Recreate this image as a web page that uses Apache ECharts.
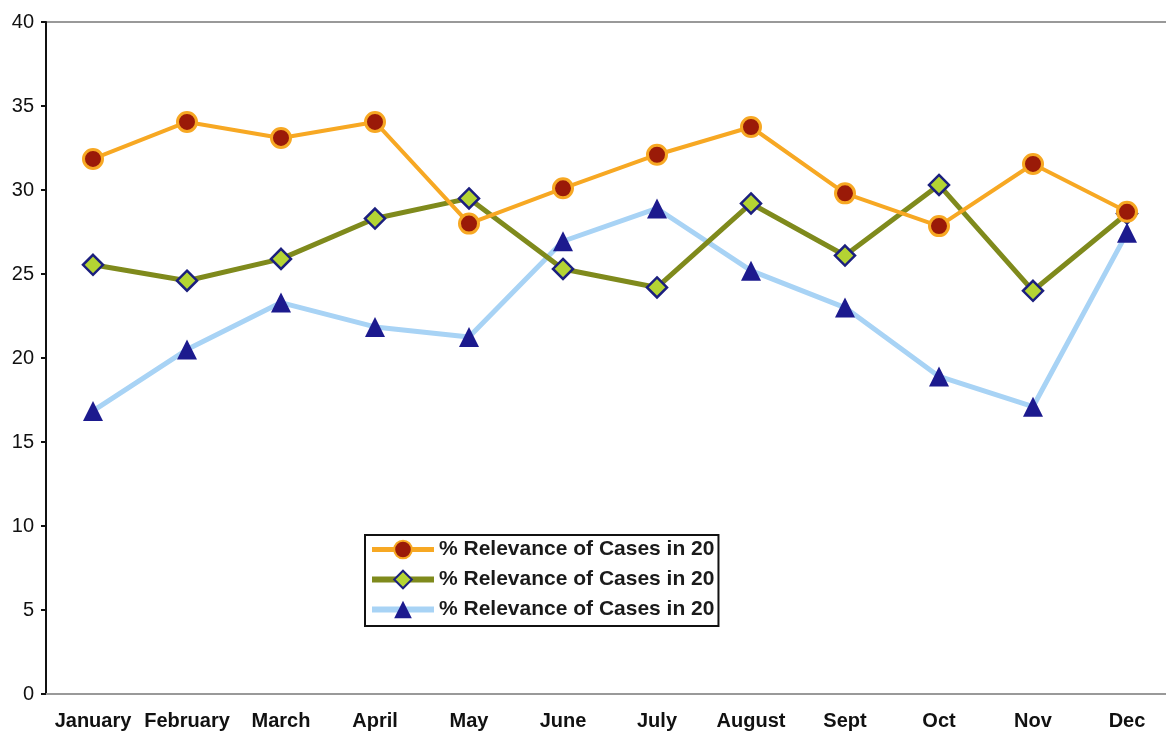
<!DOCTYPE html>
<html>
<head>
<meta charset="utf-8">
<script src="https://cdn.jsdelivr.net/npm/echarts@6/dist/echarts.min.js"></script>
<style>
  html, body { margin: 0; padding: 0; background: #fff; }
  #chart { width: 1166px; height: 734px; }
</style>
</head>
<body>
<div id="chart"></div>
<script>
const months = ['January', 'February', 'March', 'April', 'May', 'June', 'July', 'August', 'Sept', 'Oct', 'Nov', 'Dec']
const legendLabel = '% Relevance of Cases in 20'
const seriesNames = ['s1', 's2', 's3']
const orangeValues = [31.85, 34.05, 33.1, 34.05, 28.0, 30.1, 32.1, 33.75, 29.8, 27.85, 31.55, 28.7]
const greenValues = [25.55, 24.6, 25.9, 28.3, 29.5, 25.3, 24.2, 29.2, 26.1, 30.3, 24.0, 28.6]
const blueValues = [16.85, 20.5, 23.3, 21.85, 21.25, 26.95, 28.9, 25.2, 23.0, 18.9, 17.1, 27.45]

const orange = '#F7A823'
const olive = '#7F8A1C'
const skyBlue = '#A8D3F5'

const chart = echarts.init(document.getElementById('chart'))

chart.setOption({
  animation: false,
  textStyle: { fontFamily: 'Liberation Sans, Arial, sans-serif' },
  // plot runs a bit past the right edge, like the original
  grid: {
    left: 46,
    top: 22,
    width: 1128,
    height: 672,
    outerBoundsMode: 'none',
    show: true,
    borderColor: '#999',
    borderWidth: 2
  },
  legend: {
    orient: 'vertical',
    left: 365,
    top: 535,
    padding: [4, 4, 6, 4],
    itemGap: 9,
    itemWidth: 62,
    itemHeight: 22,
    backgroundColor: '#fff',
    borderColor: '#111',
    borderWidth: 2,
    borderRadius: 0,
    data: [
      { name: seriesNames[0], lineStyle: { width: 5 } },
      { name: seriesNames[1], lineStyle: { width: 6 } },
      { name: seriesNames[2], lineStyle: { width: 6 } }
    ],
    formatter: () => legendLabel,
    textStyle: { fontSize: 21, fontWeight: 'bold', color: '#1a1a1a' }
  },
  xAxis: {
    type: 'category',
    data: months,
    boundaryGap: true,
    axisLine: { lineStyle: { color: '#999', width: 2 } },
    axisTick: { show: false },
    axisLabel: { fontSize: 20, fontWeight: 'bold', color: '#111', margin: 17, interval: 0 }
  },
  yAxis: {
    type: 'value',
    min: 0,
    max: 40,
    interval: 5,
    splitLine: { show: false },
    axisLine: { show: true, lineStyle: { color: '#111', width: 2 } },
    axisTick: { show: true, length: 5, lineStyle: { color: '#111', width: 2 } },
    axisLabel: { fontSize: 20, color: '#111', margin: 12 }
  },
  series: [
    {
      name: seriesNames[0],
      type: 'line',
      data: orangeValues,
      symbol: 'circle',
      symbolSize: 19,
      lineStyle: { color: orange, width: 4 },
      itemStyle: { color: '#9A1A08', borderColor: orange, borderWidth: 3 },
      z: 3
    },
    {
      name: seriesNames[1],
      type: 'line',
      data: greenValues,
      symbol: 'diamond',
      symbolSize: 20,
      lineStyle: { color: olive, width: 5 },
      itemStyle: { color: '#B4D433', borderColor: '#1B1F7E', borderWidth: 2.5 },
      z: 2
    },
    {
      name: seriesNames[2],
      type: 'line',
      data: blueValues,
      symbol: 'triangle',
      symbolSize: 20,
      lineStyle: { color: skyBlue, width: 5 },
      itemStyle: { color: '#1C1A8E', borderWidth: 0 },
      z: 1
    }
  ]
})
</script>
</body>
</html>
